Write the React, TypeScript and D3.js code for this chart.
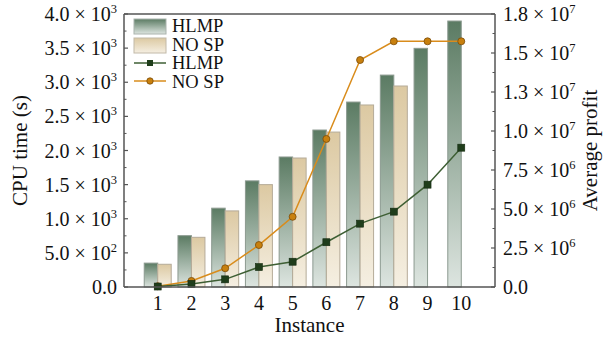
import React from 'react';
import * as d3 from 'd3';

const instances = [1, 2, 3, 4, 5, 6, 7, 8, 9, 10];
const cpuHlmp = [350, 752, 1155, 1555, 1905, 2300, 2710, 3105, 3497, 3897];
const cpuNoSp = [333, 728, 1115, 1500, 1890, 2270, 2667, 2945, null, null];
const profitHlmp = [0.03e6, 0.2e6, 0.49e6, 1.28e6, 1.62e6, 2.87e6, 4.06e6, 4.83e6, 6.56e6, 8.93e6];
const profitNoSp = [0.05e6, 0.39e6, 1.2e6, 2.69e6, 4.5e6, 9.49e6, 14.55e6, 15.75e6, 15.75e6, 15.75e6];
const leftTicks = [
  ['4.0', '3'], ['3.5', '3'], ['3.0', '3'], ['2.5', '3'], ['2.0', '3'],
  ['1.5', '3'], ['1.0', '3'], ['5.0', '2'], ['0.0', ''],
];
const leftTickValues = [4000, 3500, 3000, 2500, 2000, 1500, 1000, 500, 0];
const rightTicks = [
  ['1.8', '7'], ['1.5', '7'], ['1.3', '7'], ['1.0', '7'], ['7.5', '6'],
  ['5.0', '6'], ['2.5', '6'], ['0.0', ''],
];
const rightTickValues = [17.5e6, 15e6, 12.5e6, 10e6, 7.5e6, 5e6, 2.5e6, 0];

const W = 603, H = 340;
const m = {left: 124, right: 495, top: 14, bottom: 287};
const font = '"Liberation Serif", "Times New Roman", serif';
const axisColor = '#555';

function TickLabel({x, y, mant, exp, anchor}) {
  return (
    <text x={x} y={y} dy="0.35em" textAnchor={anchor} fontSize={20} fontFamily={font} fill="#111">
      {mant}
      {exp ? ' × 10' : ''}
      {exp ? <tspan fontSize={12.5} dy={-8}>{exp}</tspan> : null}
    </text>
  );
}

export default function App() {
  const x = d3.scaleLinear().domain([0, 11]).range([m.left, m.right]);
  const yL = d3.scaleLinear().domain([0, 4000]).range([m.bottom, m.top]);
  const yR = d3.scaleLinear().domain([0, 17.5e6]).range([m.bottom, m.top]);
  const bw = (x(1) - x(0)) * 0.4;

  const line = d3.line().x(d => d[0]).y(d => d[1]);
  const hlmpPts = instances.map((c, i) => [x(c), yR(profitHlmp[i])]);
  const noSpPts = instances.map((c, i) => [x(c), yR(profitNoSp[i])]);

  const minorL = d3.range(250, 4000, 500);
  const minorR = d3.range(1.25e6, 17.5e6, 2.5e6);

  return (
    <svg width={W} height={H} style={{position: 'absolute', left: 0, top: 0, background: '#fff'}}>
      <defs>
        <linearGradient id="gH" x1="0" y1="0" x2="0" y2="1">
          <stop offset="0" stopColor="#5b7b63" />
          <stop offset="1" stopColor="#dde5e0" />
        </linearGradient>
        <linearGradient id="gN" x1="0" y1="0" x2="0" y2="1">
          <stop offset="0" stopColor="#dcc9a2" />
          <stop offset="1" stopColor="#f5efe2" />
        </linearGradient>
      </defs>

      {/* bars */}
      {instances.map((c, i) => (
        <g key={c}>
          <rect x={x(c) - bw} y={yL(cpuHlmp[i])} width={bw} height={m.bottom - yL(cpuHlmp[i])}
            fill="url(#gH)" stroke="#8c9a90" strokeWidth={1} />
          {cpuNoSp[i] != null &&
            <rect x={x(c)} y={yL(cpuNoSp[i])} width={bw} height={m.bottom - yL(cpuNoSp[i])}
              fill="url(#gN)" stroke="#b5ab98" strokeWidth={1} />}
        </g>
      ))}

      {/* lines */}
      <path d={line(noSpPts)} fill="none" stroke="#d98c1c" strokeWidth={1.5} />
      <path d={line(hlmpPts)} fill="none" stroke="#3e5f34" strokeWidth={1.5} />
      {noSpPts.map((p, i) => <circle key={i} cx={p[0]} cy={p[1]} r={3.5} fill="#c8800e" stroke="#7a4a08" strokeWidth={0.8} />)}
      {hlmpPts.map((p, i) => <rect key={i} x={p[0] - 3.5} y={p[1] - 3.5} width={7} height={7} fill="#1f3d1b" stroke="#142a10" strokeWidth={0.6} />)}

      {/* frame */}
      <line x1={m.left} x2={m.right} y1={m.top} y2={m.top} stroke={axisColor} strokeWidth={1.5} />
      <line x1={m.left} x2={m.right} y1={m.bottom} y2={m.bottom} stroke={axisColor} strokeWidth={1.5} />
      <line x1={m.left} x2={m.left} y1={m.top} y2={m.bottom} stroke={axisColor} strokeWidth={1.5} />
      <line x1={m.right} x2={m.right} y1={m.top} y2={m.bottom} stroke={axisColor} strokeWidth={1.5} />

      {/* left axis */}
      {leftTickValues.map(v => <line key={v} x1={m.left} x2={m.left + 4} y1={yL(v)} y2={yL(v)} stroke={axisColor} strokeWidth={1.2} />)}
      {minorL.map(v => <line key={v} x1={m.left} x2={m.left + 2.5} y1={yL(v)} y2={yL(v)} stroke={axisColor} strokeWidth={1} />)}
      {leftTicks.map((t, i) => (
        <TickLabel key={i} x={117} y={yL(leftTickValues[i])} mant={t[0]} exp={t[1]} anchor="end" />
      ))}

      {/* right axis */}
      {rightTickValues.map(v => <line key={v} x1={m.right} x2={m.right - 4} y1={yR(v)} y2={yR(v)} stroke={axisColor} strokeWidth={1.2} />)}
      {minorR.map(v => <line key={v} x1={m.right} x2={m.right - 2.5} y1={yR(v)} y2={yR(v)} stroke={axisColor} strokeWidth={1} />)}
      {rightTicks.map((t, i) => (
        <TickLabel key={i} x={503} y={yR(rightTickValues[i])} mant={t[0]} exp={t[1]} anchor="start" />
      ))}

      {/* x axis labels */}
      {instances.map(c => (
        <text key={c} x={x(c)} y={303} dy="0.35em" textAnchor="middle" fontSize={20} fontFamily={font} fill="#111">{c}</text>
      ))}
      <text x={(m.left + m.right) / 2} y={325} dy="0.35em" textAnchor="middle" fontSize={21} fontFamily={font} fill="#111">Instance</text>
      <text transform={`translate(20,${(m.top + m.bottom) / 2}) rotate(-90)`} dy="0.35em" textAnchor="middle" fontSize={21} fontFamily={font} fill="#111">CPU time (s)</text>
      <text transform={`translate(590,${(m.top + m.bottom) / 2}) rotate(-90)`} dy="0.35em" textAnchor="middle" fontSize={21} fontFamily={font} fill="#111">Average profit</text>

      {/* legend */}
      <g fontFamily={font} fontSize={18.5} fill="#111">
        <rect x={134} y={19} width={32} height={15} fill="url(#gH)" stroke="#aab3ad" />
        <text x={172} y={26} dy="0.35em">HLMP</text>
        <rect x={134} y={38} width={32} height={15} fill="url(#gN)" stroke="#c2b9a8" />
        <text x={172} y={44.5} dy="0.35em">NO SP</text>
        <line x1={134} x2={166} y1={63} y2={63} stroke="#3e5f34" strokeWidth={1.5} />
        <rect x={147} y={60} width={6} height={6} fill="#1f3d1b" />
        <text x={172} y={63} dy="0.35em">HLMP</text>
        <line x1={134} x2={166} y1={81} y2={81} stroke="#d98c1c" strokeWidth={1.5} />
        <circle cx={150} cy={81} r={3.2} fill="#c8800e" stroke="#7a4a08" strokeWidth={0.8} />
        <text x={172} y={81.5} dy="0.35em">NO SP</text>
      </g>
    </svg>
  );
}
